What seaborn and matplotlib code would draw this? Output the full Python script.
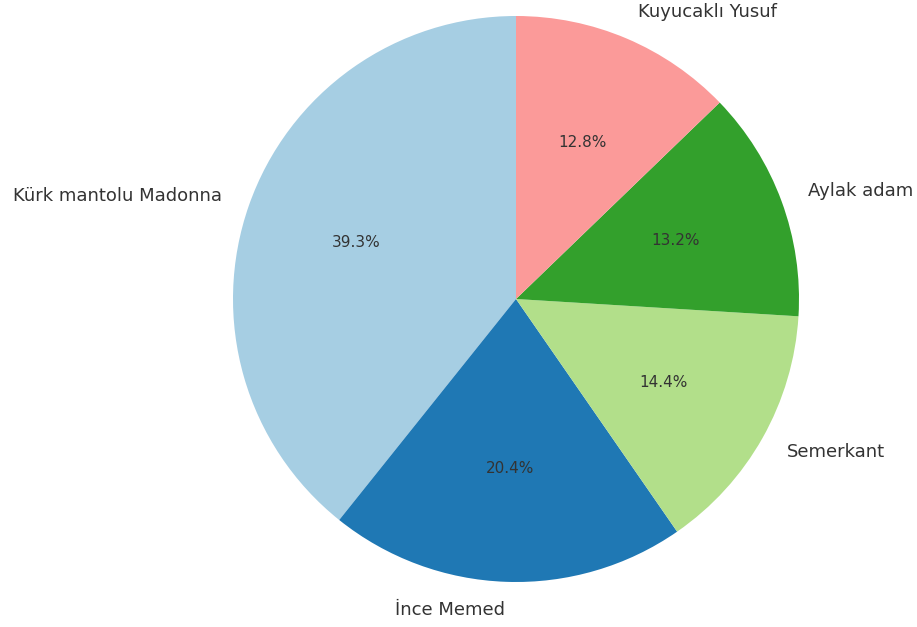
import matplotlib
matplotlib.use("Agg")
import matplotlib.pyplot as plt
import seaborn as sns

books = ["Kürk mantolu Madonna", "İnce Memed", "Semerkant", "Aylak adam", "Kuyucaklı Yusuf"]
shares = [39.3, 20.4, 14.4, 13.2, 12.8]

sns.set_theme(style="white")
plt.rcParams['font.family'] = ['DejaVu Sans']

colors = sns.color_palette("Paired", len(books))

fig = plt.figure(figsize=(9.17, 6.27), dpi=100)
ax = fig.add_axes([233 / 917, 45 / 627, 566 / 917, 566 / 627])

wedges, texts, autotexts = ax.pie(
    shares,
    labels=books,
    colors=colors,
    autopct="%1.1f%%",
    startangle=90,
    counterclock=True,
    wedgeprops={"linewidth": 0},
    textprops={"fontsize": 13, "color": "#333333"},
)
for t in autotexts:
    t.set_fontsize(11)
ax.set_xlim(-1, 1)
ax.set_ylim(-1, 1)
ax.set_aspect("equal")

fig.savefig("out.png", dpi=100)
